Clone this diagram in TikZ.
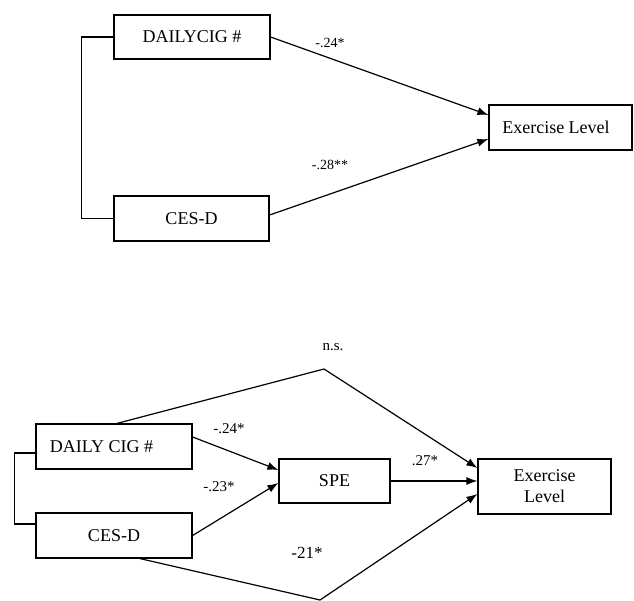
\documentclass[tikz,border=0pt]{standalone}
\usepackage{fontspec}
\setmainfont{Liberation Serif}
\newfontfamily\tnr{Liberation Serif}
\usetikzlibrary{arrows.meta,calc}
\tikzset{
  box/.style={draw, line width=1.2pt, rectangle, inner sep=0pt, font=\tnr\fontsize{18}{21}\selectfont, align=center},
  conn/.style={line width=1.2pt},
  arr/.style={line width=1.2pt, -{Latex[length=11pt,width=8pt]}},
  lbl/.style={inner sep=0pt, font=\tnr\fontsize{14}{16}\selectfont},
  lblb/.style={inner sep=0pt, font=\tnr\fontsize{15}{17}\selectfont},
}
\begin{document}
\begin{tikzpicture}[x=1pt,y=-1pt]
\useasboundingbox[fill=white] (0,0) rectangle (634,601);
% ---- top diagram ----
\node[box, minimum width=156pt, minimum height=44pt] (dc1) at (192,37) {DAILYCIG \#};
\node[box, minimum width=155pt, minimum height=45pt] (ce1) at (191.5,218.5) {CES-D};
\node[box, minimum width=143pt, minimum height=45pt] (ex1) at (560.5,127.5) {\hspace*{-9pt}Exercise Level};
\draw[conn] (dc1.west) -- ++(-32,0) |- (ce1.west);
\draw[arr] (dc1.east) -- ($(ex1.west)+(0,-12.5)$);
\draw[arr] ($(ce1.east)+(0,-3.5)$) -- ($(ex1.west)+(0,11.5)$);
\node[lbl] (l1) at (330,43) {-.24*};
\node[lbl] (l2) at (330,165) {-.28**};
% ---- bottom diagram ----
\node[box, minimum width=156pt, minimum height=45pt] (dc2) at (114,446.5) {DAILY CIG \#\hspace*{25pt}};
\node[box, minimum width=156pt, minimum height=45pt] (ce2) at (114,535.5) {CES-D};
\node[box, minimum width=111pt, minimum height=44pt] (spe) at (334.5,481) {SPE};
\node[box, minimum width=133pt, minimum height=55pt] (ex2) at (544.5,486.5) {Exercise\\Level};
\coordinate (apx1) at (324,369);
\coordinate (apx2) at (320,600);
\draw[conn] ($(dc2.west)+(0,6.5)$) -- ++(-21,0) |- ($(ce2.west)+(0,-11.5)$);
\draw[arr] ($(dc2.north)+(3,0)$) -- (apx1) -- ($(ex2.west)+(0,-18.5)$);
\draw[arr] ($(dc2.east)+(0,-9.5)$) -- ($(spe.west)+(0,-11)$);
\draw[arr] (ce2.east) -- ($(spe.west)+(0,2)$);
\draw[arr] (spe.east) -- (spe.east -| ex2.west);
\draw[arr] ($(ce2.south)+(26,0)$) -- (apx2) -- ($(ex2.west)+(0,7.5)$);
\node[lblb] (ns) at (333,347) {n.s.};
\node[lblb] (l3) at (229,429) {-.24*};
\node[lblb] (l4) at (219,487) {-.23*};
\node[lblb] (l5) at (425,461) {.27*};
\node[inner sep=0pt, font=\tnr\fontsize{17}{19}\selectfont] (l6) at (307,553) {-21*};
\end{tikzpicture}
\end{document}
